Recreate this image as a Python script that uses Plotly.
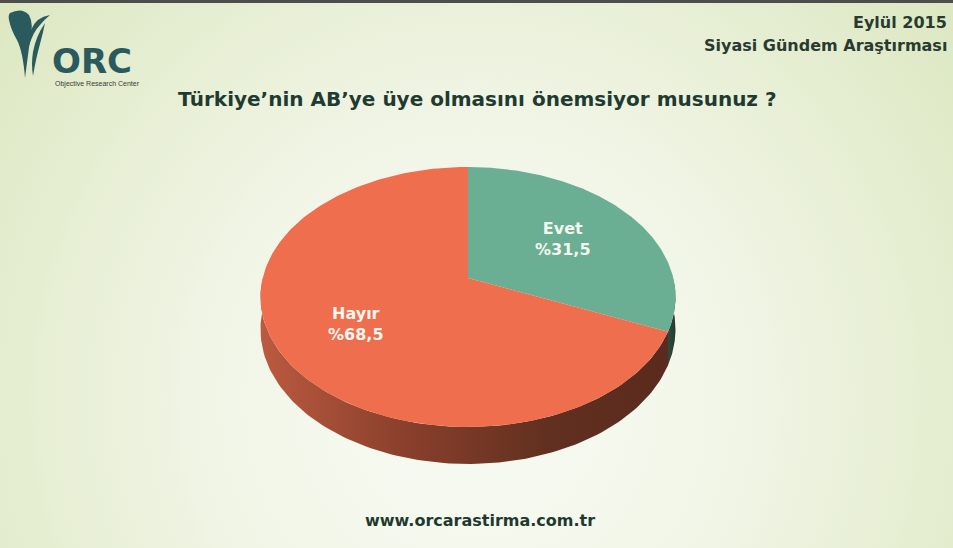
import numpy as np
import plotly.graph_objects as go

# ---------------- data ----------------
categories = ["Evet", "Hayır"]
values = [31.5, 68.5]
label_texts = ["Evet<br>%31,5", "Hayır<br>%68,5"]
title_text = "Türkiye’nin AB’ye üye olmasını önemsiyor musunuz ?"
header_lines = ["Eylül 2015", "Siyasi Gündem Araştırması"]
footer_text = "www.orcarastirma.com.tr"

# ---------------- style ----------------
W, H = 953, 548
top_colors = ["#6aae93", "#ee6e4e"]
side_scales = [
    [[0, "#2f4a3d"], [1, "#243a30"]],
    [[0, "#bb5a40"], [0.35, "#8a402c"], [0.7, "#62301f"], [1, "#5a2a1e"]],
]
# 3D pie geometry (pixel space)
CX, CY = 468, 278
A, B, K = 205.3, 127.2, 0.146
DEPTH = 31.6


def proj(theta, r=1.0, drop=0.0):
    """theta: clockwise from top, radians. returns screen x,y."""
    u = r * np.sin(theta)
    v = r * np.cos(theta)
    w = 1 + K * v
    return CX + A * u / w, CY - B * v / w + drop / w


fig = go.Figure()

# background (radial gradient)
fig.add_trace(go.Scatter(
    x=[-120, 1073, 1073, -120, -120], y=[-220, -220, 1020, 1020, -220],
    mode="lines", line=dict(width=0), fill="toself",
    fillgradient=dict(type="radial",
                      colorscale=[[0, "#f9fbf4"], [0.45, "#f1f5e6"], [0.8, "#e4edcf"], [1, "#dde8c3"]]),
    hoverinfo="skip", showlegend=False))

total = sum(values)
starts = np.cumsum([0] + values[:-1]) / total * 2 * np.pi
ends = np.cumsum(values) / total * 2 * np.pi

# sides (front half only)
for i in range(len(values)):
    a0 = max(starts[i], np.pi / 2)
    a1 = min(ends[i], 3 * np.pi / 2)
    if a1 <= a0:
        continue
    t = np.linspace(a0, a1, 120)
    xt, yt = proj(t)
    xb, yb = proj(t, drop=DEPTH)
    xs = np.concatenate([xt, xb[::-1], xt[:1]])
    ys = np.concatenate([yt, yb[::-1], yt[:1]])
    fig.add_trace(go.Scatter(
        x=xs, y=ys, mode="lines", line=dict(width=0), fill="toself",
        fillgradient=dict(type="horizontal", colorscale=side_scales[i]),
        hoverinfo="skip", showlegend=False))

# top surface
for i in range(len(values)):
    t = np.linspace(starts[i], ends[i], 200)
    xa, ya = proj(t)
    xs = np.concatenate([[CX], xa, [CX]])
    ys = np.concatenate([[CY], ya, [CY]])
    fig.add_trace(go.Scatter(
        x=xs, y=ys, mode="lines", line=dict(width=0), fill="toself",
        fillcolor=top_colors[i], name=categories[i],
        hoverinfo="name", showlegend=False))

# labels
label_r = [0.58, 0.62]
annotations = []
for i in range(len(values)):
    mid = (starts[i] + ends[i]) / 2
    lx, ly = proj(mid, r=label_r[i])
    annotations.append(dict(
        x=lx, y=ly, xref="x", yref="y", text="<b>" + label_texts[i].replace("<br>", "</b><br><b>") + "</b>",
        showarrow=False,
        font=dict(family="DejaVu Sans", size=16, color="#f4f6f0"),
        align="center", xanchor="center", yanchor="middle"))

# title & texts
annotations.append(dict(x=477, y=99, xref="x", yref="y", text="<b>" + title_text + "</b>",
                        showarrow=False, xanchor="center", yanchor="middle",
                        font=dict(family="DejaVu Sans", size=20, color="#1f3b31")))
annotations.append(dict(x=949, y=22, xref="x", yref="y", text="<b>" + header_lines[0] + "</b>",
                        showarrow=False, xanchor="right", yanchor="middle",
                        font=dict(family="DejaVu Sans", size=16, color="#283a32")))
annotations.append(dict(x=949, y=45, xref="x", yref="y", text="<b>" + header_lines[1] + "</b>",
                        showarrow=False, xanchor="right", yanchor="middle",
                        font=dict(family="DejaVu Sans", size=16, color="#283a32")))
annotations.append(dict(x=480, y=520, xref="x", yref="y", text="<b>" + footer_text + "</b>",
                        showarrow=False, xanchor="center", yanchor="middle",
                        font=dict(family="DejaVu Sans", size=16, color="#1e3a2f")))
# logo text
annotations.append(dict(x=50, y=61, xref="x", yref="y", text="<b>ORC</b>",
                        showarrow=False, xanchor="left", yanchor="middle",
                        font=dict(family="DejaVu Sans", size=34, color="#2b5a5e")))
annotations.append(dict(x=53, y=84, xref="x", yref="y", text="Objective Research Center",
                        showarrow=False, xanchor="left", yanchor="middle",
                        font=dict(family="Liberation Sans", size=7, color="#3a3a3a")))

logo_col = "#2b5a5e"
shapes = [
    # top dark border
    dict(type="rect", xref="paper", yref="paper", x0=0, x1=1, y0=1 - 3 / H, y1=1,
         fillcolor="#4d4d4d", line=dict(width=0), layer="above"),
    # logo leaves
    dict(type="path", xref="x", yref="y", layer="above", fillcolor=logo_col, line=dict(width=0),
         path="M 10 13 Q 22 7 29 15 Q 34 24 30 40 L 25 78 Q 23 52 17 40 Q 11 30 9 20 Q 8 15 10 13 Z"),
    dict(type="path", xref="x", yref="y", layer="above", fillcolor=logo_col, line=dict(width=0),
         path="M 50 15 Q 36 17 31 30 Q 28 38 29 46 Q 33 32 40 25 Q 45 19 50 15 Z"),
    dict(type="path", xref="x", yref="y", layer="above", fillcolor=logo_col, line=dict(width=0),
         path="M 45 23 Q 36 36 33 52 Q 31 64 33 76 Q 36 58 40 44 Q 43 33 45 23 Z"),
]

fig.update_layout(
    width=W, height=H, margin=dict(l=0, r=0, t=0, b=0),
    paper_bgcolor="#eef3e0", plot_bgcolor="#eef3e0",
    xaxis=dict(range=[0, W], visible=False, fixedrange=True),
    yaxis=dict(range=[H, 0], visible=False, fixedrange=True),
    annotations=annotations, shapes=shapes, showlegend=False,
)

fig.write_html("out.html", config=dict(displayModeBar=False),
               post_script="document.body.style.margin='0';document.body.style.overflow='hidden';")
